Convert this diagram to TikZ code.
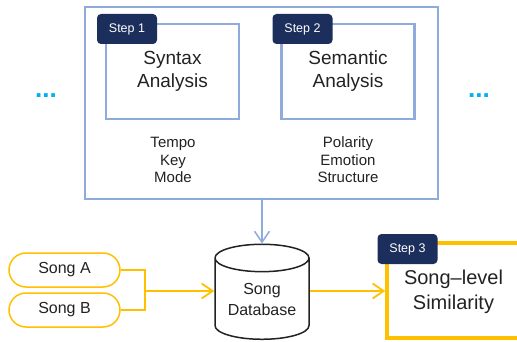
\documentclass[tikz,border=0pt]{standalone}
\usepackage{fontspec}
\setmainfont{Liberation Sans}
\usetikzlibrary{arrows.meta,positioning,shapes.geometric,shapes.misc}
\definecolor{boxBlue}{HTML}{8FAADC}
\definecolor{tagNavy}{HTML}{1C2E5C}
\definecolor{songAmber}{HTML}{FFC000}
\definecolor{dotCyan}{HTML}{00B0F0}
\definecolor{inkGray}{HTML}{222222}

\begin{document}
\begin{tikzpicture}[x=1pt,y=-1pt,text=inkGray,
  stepbox/.style={draw=boxBlue, line width=2.5pt, minimum width=133pt, minimum height=95pt, align=center, inner sep=0pt, font=\fontsize{19}{23}\selectfont},
  tag/.style={fill=tagNavy, rounded corners=4pt, minimum width=60pt, minimum height=30pt, inner sep=0pt, text=white, font=\fontsize{12.5}{14}\selectfont},
  feat/.style={align=center, inner sep=0pt, font=\fontsize{15}{17.5}\selectfont},
  song/.style={draw=songAmber, line width=1.5pt, rounded rectangle, minimum width=111pt, minimum height=34pt, inner sep=0pt, font=\fontsize{16}{19}\selectfont},
  ellip/.style={text=dotCyan, font=\fontsize{26}{26}\selectfont\bfseries},
  link/.style={songAmber, line width=1.8pt},
  barb/.style={-{Straight Barb[length=11pt,width=15pt]}}]
\useasboundingbox (0,0) rectangle (517,342);
\clip (0,0) rectangle (517,342);
% analysis stage
\node[draw=boxBlue, line width=1.5pt, minimum width=353pt, minimum height=192pt] (stage) at (261.5,103) {};
\node[stepbox] (syn) at (172.5,71.5) {Syntax\\Analysis};
\node[stepbox] (sem) at (348,71.5) {Semantic\\Analysis};
\node[tag] (t1) at (127,29) {Step 1};
\node[tag] (t2) at (302.5,29) {Step 2};
\node[feat] (synf) at (173,160) {Tempo\\Key\\Mode};
\node[feat] (semf) at (348,160) {Polarity\\Emotion\\Structure};
\node[ellip] (dl) at (46,96) {...};
\node[ellip] (dr) at (479,96) {...};
% songs and database
\node[song] (sa) at (64.5,270) {Song A};
\node[song] (sb) at (64.5,310) {Song B};
\node[cylinder, shape border rotate=90, aspect=0.4, draw=inkGray, line width=1.5pt, minimum width=94pt, minimum height=95pt,
  inner sep=0pt, align=center, font=\fontsize{16}{21}\selectfont] (db) at (262,299) {Song\\Database};
\coordinate (join) at (145,291);
\draw[link] (sa.east) -| (join);
\draw[link] (sb.east) -| (join);
\draw[link,barb] (join) -- (join -| db.west);
\draw[boxBlue,line width=1.5pt,barb] (db.north |- stage.south) -- (db.north);
% similarity
\node[draw=songAmber, line width=3.5pt, minimum width=143pt, minimum height=95pt] (sim) at (458.5,290.5) {};
\node[align=center, inner sep=0pt, font=\fontsize{20}{25}\selectfont] (simtxt) at (453.5,291.5) {Song--level\\Similarity};
\node[tag] (t3) at (407.5,249) {Step 3};
\draw[link,barb] (db.east |- join) -- (sim.west |- join);
\end{tikzpicture}
\end{document}
